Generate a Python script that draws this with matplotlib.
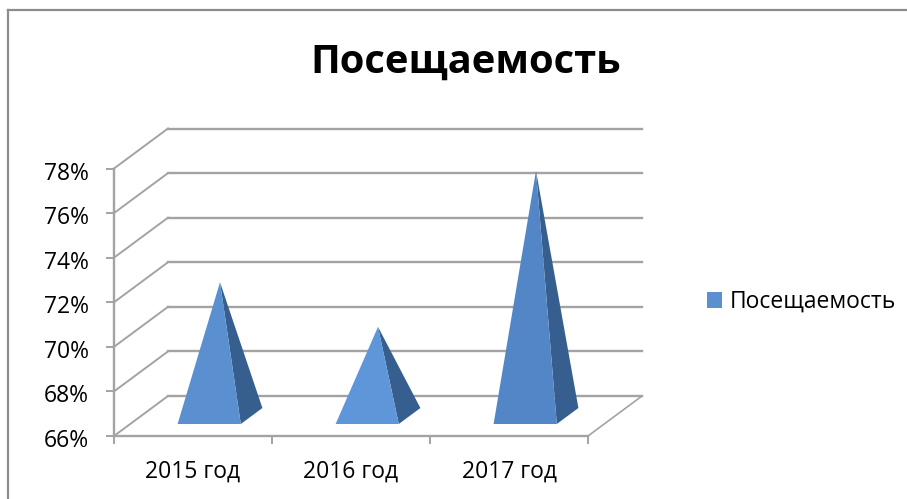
#!/usr/bin/env python3
"""Посещаемость: 3D-looking pyramid chart drawn with a sheared depth offset."""
import matplotlib
matplotlib.use('Agg')
import matplotlib.pyplot as plt
from matplotlib.lines import Line2D
from matplotlib.patches import Patch, Polygon
from matplotlib.ticker import PercentFormatter
from matplotlib.transforms import ScaledTranslation

plt.rcParams['font.family'] = ['Open Sans', 'DejaVu Sans']

TITLE = 'Посещаемость'
categories = ['2015 год', '2016 год', '2017 год']
values = [72, 70, 77]
y_ticks = [66, 68, 70, 72, 74, 76, 78]

front_colors = ['#5a8fd0', '#5f96da', '#5286c6']
side_color = '#365f8f'
grid_color = '#a3a3a3'

W, H = 907, 499
AX_L, AX_R, AX_T, AX_B = 114, 588, 168.5, 436
DEPTH_PX = (54, 40)

fig = plt.figure(figsize=(W / 100, H / 100), dpi=100, facecolor='white')
ax = fig.add_axes([AX_L / W, 1 - AX_B / H, (AX_R - AX_L) / W, (AX_B - AX_T) / H])
ax.set_xlim(0, len(categories))
ax.set_ylim(y_ticks[0], y_ticks[-1])
ax.patch.set_visible(False)

# one unit of depth, in data units
dx = DEPTH_PX[0] / ((AX_R - AX_L) / len(categories))
dy = DEPTH_PX[1] / ((AX_B - AX_T) / (y_ticks[-1] - y_ticks[0]))


def proj(x, v, d):
    return x + d * dx, v + d * dy


# walls and floor
for v in y_ticks:
    x0, y0 = proj(0, v, 1)
    x1, y1 = proj(len(categories), v, 1)
    ax.plot([x0, x1], [y0, y1], color=grid_color, lw=1.7, clip_on=False, zorder=1)
    ax.plot([0, x0], [v, y0], color=grid_color, lw=1.4, clip_on=False, zorder=1)
x0, y0 = proj(len(categories), y_ticks[0], 1)
ax.plot([len(categories), x0], [y_ticks[0], y0], color=grid_color, lw=1.2, clip_on=False, zorder=1)

# pyramids
half = 0.2
for i, v in enumerate(values):
    c = i + 0.5
    fl = proj(c - half, y_ticks[0], 0.3)
    fr = proj(c + half, y_ticks[0], 0.3)
    br = proj(c + half, y_ticks[0], 0.7)
    apex = proj(c, v, 0.5)
    ax.add_patch(Polygon([fr, br, apex], closed=True, fc=side_color, ec='none', zorder=3, clip_on=False))
    ax.add_patch(Polygon([fl, fr, apex], closed=True, fc=front_colors[i], ec='none', zorder=4, clip_on=False))

for side in ('top', 'right'):
    ax.spines[side].set_visible(False)
for side in ('left', 'bottom'):
    ax.spines[side].set_color(grid_color)
    ax.spines[side].set_linewidth(1.7)

ax.set_yticks(y_ticks)
ax.yaxis.set_major_formatter(PercentFormatter(decimals=0))
ax.set_xticks(range(len(categories) + 1))
ax.set_xticklabels([])
ax.set_xticks([i + 0.5 for i in range(len(categories))], minor=True)
ax.set_xticklabels(categories, minor=True)
ax.tick_params(axis='x', which='minor', length=0, pad=17, labelsize=16.5, labelcolor='black')
ax.tick_params(axis='x', which='major', length=6, width=1.4, color=grid_color)
ax.tick_params(axis='y', length=6, width=1.4, color=grid_color, labelsize=16.5, pad=12)

# labels sit a little below their ticks in the original
nudge = ScaledTranslation(0, -1.5 / 72, fig.dpi_scale_trans)
for label in ax.get_yticklabels():
    label.set_transform(label.get_transform() + nudge)

fig.text(466 / W, 1 - 62 / H, TITLE, fontsize=28.7, fontweight='bold', ha='center', va='center')

fig.legend(handles=[Patch(fc=front_colors[0], ec='none', label=TITLE)], loc='center left',
           bbox_to_anchor=(707 / W, 1 - 302 / H), frameon=False, fontsize=16.5,
           handlelength=0.65, handleheight=0.65, handletextpad=0.35, borderpad=0, borderaxespad=0)

# outer chart frame, only top and left fall inside the picture
fig.add_artist(Line2D([8 / W, 8 / W], [0, 1 - 9.5 / H], color='#8c8c8c', lw=1.6))
fig.add_artist(Line2D([8 / W, 1], [1 - 9.5 / H, 1 - 9.5 / H], color='#8c8c8c', lw=1.6))

fig.savefig('out.png', dpi=100)
